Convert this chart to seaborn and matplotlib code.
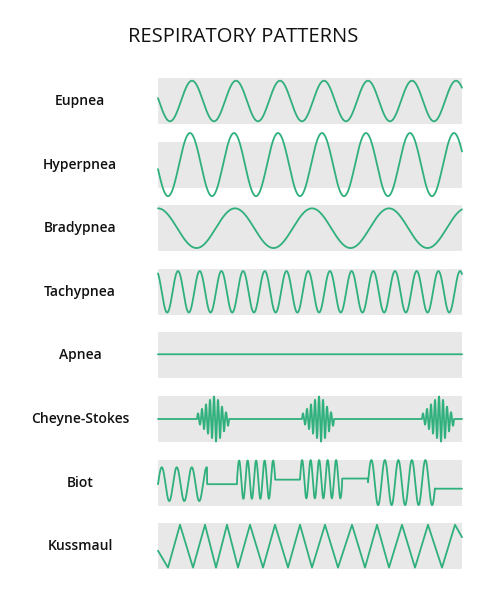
import numpy as np
import pandas as pd
import matplotlib
matplotlib.use("Agg")
import matplotlib.pyplot as plt
import seaborn as sns

sns.set_style("white")
plt.rcParams['font.family'] = ['Open Sans', 'DejaVu Sans']

TITLE = "RESPIRATORY PATTERNS"
patterns = ["Eupnea", "Hyperpnea", "Bradypnea", "Tachypnea", "Apnea",
            "Cheyne-Stokes", "Biot", "Kussmaul"]
# sinusoid patterns: first peak position (px of 304-wide panel), period, amplitude
sine_first_peak = {"Eupnea": 34, "Hyperpnea": 32, "Bradypnea": 0, "Tachypnea": 20}
sine_period = {"Eupnea": 44, "Hyperpnea": 44, "Bradypnea": 77, "Tachypnea": 21.7}
sine_amp = {"Eupnea": 0.9, "Hyperpnea": 1.4, "Bradypnea": 0.88, "Tachypnea": 0.92}
apnea_level = 0.05
# Cheyne-Stokes: burst starts, cycle period, cycle amplitudes
cs_starts = [39, 144, 264]
cs_period = 4.0
cs_cycle_amps = [0.25, 0.45, 0.65, 0.85, 1.0, 0.85, 0.55, 0.3]
cs_base = 0.0
# Biot: segments (start, end, period, amplitude, baseline) and flat levels
biot_bursts = [(0, 49, 15, 0.75, -0.07), (79, 117, 8.5, 0.85, 0.13),
               (142, 184, 8.5, 0.85, 0.15), (210, 277, 13.5, 1.0, 0.0)]
biot_flats = [(49, 79, -0.07), (117, 142, 0.13), (184, 210, 0.18), (277, 304, -0.27)]
# Kussmaul: alternating vertex positions and levels
kuss_x = [0, 10, 22, 35, 47, 58, 69, 80, 92, 105, 117, 130, 142, 154, 167, 180,
          194, 207, 219, 231, 244, 257, 270, 284, 297, 304]
kuss_y = [-0.2, -0.95, 0.95, -0.95, 0.95, -0.95, 0.95, -0.95, 0.95, -0.95, 0.95, -0.95,
          0.95, -0.95, 0.95, -0.95, 0.95, -0.95, 0.95, -0.95, 0.95, -0.95, 0.95, -0.95,
          0.95, 0.4]

W, H = 481, 600
GREEN = "#2fb07c"
fig = plt.figure(figsize=(W/100, H/100), dpi=100)
fig.text(243/W, 1-37/H, TITLE, ha="center", va="center", fontsize=14.5, color="#111111")

xs = np.linspace(0, 304, 3000)

def curve(name):
    if name in sine_period:
        return xs, sine_amp[name]*np.cos(2*np.pi*(xs-sine_first_peak[name])/sine_period[name])
    if name == "Apnea":
        return xs, np.full_like(xs, apnea_level)
    if name == "Cheyne-Stokes":
        y = np.full_like(xs, cs_base)
        for s in cs_starts:
            for k, a in enumerate(cs_cycle_amps):
                m = (xs >= s + k*cs_period) & (xs < s + (k+1)*cs_period)
                y[m] = cs_base + a*np.sin(2*np.pi*(xs[m]-s)/cs_period)
        return xs, y
    if name == "Biot":
        y = np.zeros_like(xs)
        for s, e, p, a, b in biot_bursts:
            m = (xs >= s) & (xs < e)
            y[m] = b + a*np.sin(2*np.pi*(xs[m]-s)/p)
        for s, e, b in biot_flats:
            m = (xs >= s) & (xs <= e)
            y[m] = b
        return xs, y
    return np.array(kuss_x, float), np.array(kuss_y, float)

for i, name in enumerate(patterns):
    top = 78 + 63.6*i
    ax = fig.add_axes([158/W, 1-(top+46)/H, 304/W, 46/H])
    ax.set_facecolor("#e8e8e8")
    x, y = curve(name)
    sns.lineplot(x=x, y=y, ax=ax, color=GREEN, linewidth=1.3, sort=False,
                 estimator=None)
    for l in ax.lines:
        l.set_clip_on(False)
    ax.set_xlim(0, 304)
    ax.set_ylim(-1.02, 1.02)
    ax.set_xticks([]); ax.set_yticks([])
    for sp in ax.spines.values():
        sp.set_visible(False)
    fig.text(80/W, 1-(top+23)/H, name, ha="center", va="center",
             fontsize=10, fontweight="semibold", color="#111111")

fig.savefig("out.png", dpi=100, facecolor="white")
